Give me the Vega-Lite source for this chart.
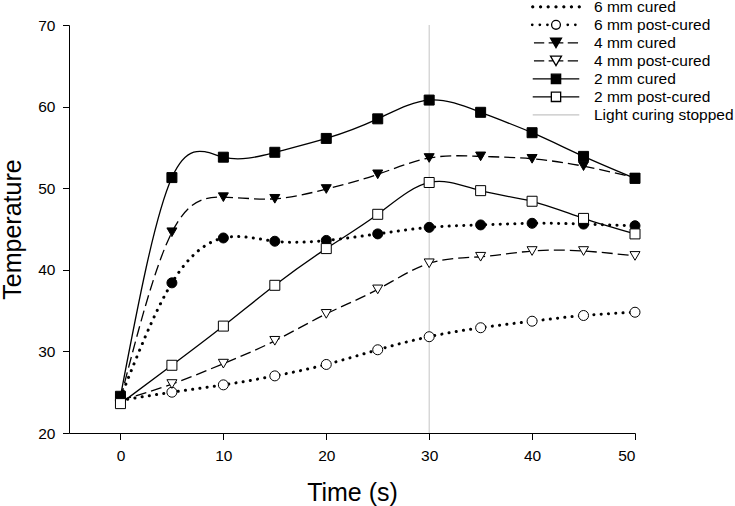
{
  "$schema": "https://vega.github.io/schema/vega-lite/v6.json",
  "width": 566,
  "height": 408,
  "autosize": {"type": "none"},
  "padding": {"left": 69, "top": 25, "right": 100, "bottom": 73},
  "background": "white",
  "config": {
    "view": {"stroke": null},
    "font": "Liberation Sans",
    "axis": {
      "grid": false,
      "domainColor": "black",
      "tickColor": "black",
      "labelColor": "black",
      "titleColor": "black",
      "labelFont": "Liberation Sans",
      "titleFont": "Liberation Sans",
      "labelFontSize": 15.5,
      "titleFontSize": 25,
      "titleFontWeight": "normal",
      "tickSize": 6.5,
      "domainWidth": 1,
      "tickWidth": 1
    },
    "legend": {
      "title": null,
      "orient": "none",
      "legendX": 461.5,
      "legendY": -27.1,
      "padding": 0,
      "offset": 0,
      "symbolSize": 2401,
      "symbolStrokeWidth": 1.3,
      "symbolOpacity": 1,
      "clipHeight": 17.9,
      "rowPadding": 0,
      "labelFont": "Liberation Sans",
      "labelFontSize": 15.5,
      "labelColor": "black",
      "labelOffset": 12.5,
      "labelLimit": 300
    }
  },
  "data": {
    "values": [
      {"s": "6 mm cured", "t": 0, "T": 24.3},
      {"s": "6 mm cured", "t": 5, "T": 38.4},
      {"s": "6 mm cured", "t": 10, "T": 43.9},
      {"s": "6 mm cured", "t": 15, "T": 43.5},
      {"s": "6 mm cured", "t": 20, "T": 43.6},
      {"s": "6 mm cured", "t": 25, "T": 44.4},
      {"s": "6 mm cured", "t": 30, "T": 45.2},
      {"s": "6 mm cured", "t": 35, "T": 45.5},
      {"s": "6 mm cured", "t": 40, "T": 45.7},
      {"s": "6 mm cured", "t": 45, "T": 45.6},
      {"s": "6 mm cured", "t": 50, "T": 45.4},
      {"s": "6 mm post-cured", "t": 0, "T": 24.0},
      {"s": "6 mm post-cured", "t": 5, "T": 25.0},
      {"s": "6 mm post-cured", "t": 10, "T": 25.9},
      {"s": "6 mm post-cured", "t": 15, "T": 27.0},
      {"s": "6 mm post-cured", "t": 20, "T": 28.4},
      {"s": "6 mm post-cured", "t": 25, "T": 30.2},
      {"s": "6 mm post-cured", "t": 30, "T": 31.8},
      {"s": "6 mm post-cured", "t": 35, "T": 32.9},
      {"s": "6 mm post-cured", "t": 40, "T": 33.7},
      {"s": "6 mm post-cured", "t": 45, "T": 34.4},
      {"s": "6 mm post-cured", "t": 50, "T": 34.8},
      {"s": "4 mm cured", "t": 0, "T": 24.2},
      {"s": "4 mm cured", "t": 5, "T": 44.6},
      {"s": "4 mm cured", "t": 10, "T": 48.9},
      {"s": "4 mm cured", "t": 15, "T": 48.7},
      {"s": "4 mm cured", "t": 20, "T": 49.9},
      {"s": "4 mm cured", "t": 25, "T": 51.7},
      {"s": "4 mm cured", "t": 30, "T": 53.7},
      {"s": "4 mm cured", "t": 35, "T": 53.9},
      {"s": "4 mm cured", "t": 40, "T": 53.6},
      {"s": "4 mm cured", "t": 45, "T": 52.7},
      {"s": "4 mm cured", "t": 50, "T": 51.3},
      {"s": "4 mm post-cured", "t": 0, "T": 24.0},
      {"s": "4 mm post-cured", "t": 5, "T": 26.0},
      {"s": "4 mm post-cured", "t": 10, "T": 28.5},
      {"s": "4 mm post-cured", "t": 15, "T": 31.3},
      {"s": "4 mm post-cured", "t": 20, "T": 34.6},
      {"s": "4 mm post-cured", "t": 25, "T": 37.6},
      {"s": "4 mm post-cured", "t": 30, "T": 40.8},
      {"s": "4 mm post-cured", "t": 35, "T": 41.6},
      {"s": "4 mm post-cured", "t": 40, "T": 42.3},
      {"s": "4 mm post-cured", "t": 45, "T": 42.3},
      {"s": "4 mm post-cured", "t": 50, "T": 41.7},
      {"s": "2 mm cured", "t": 0, "T": 24.5},
      {"s": "2 mm cured", "t": 5, "T": 51.3},
      {"s": "2 mm cured", "t": 10, "T": 53.8},
      {"s": "2 mm cured", "t": 15, "T": 54.4},
      {"s": "2 mm cured", "t": 20, "T": 56.1},
      {"s": "2 mm cured", "t": 25, "T": 58.5},
      {"s": "2 mm cured", "t": 30, "T": 60.8},
      {"s": "2 mm cured", "t": 35, "T": 59.3},
      {"s": "2 mm cured", "t": 40, "T": 56.8},
      {"s": "2 mm cured", "t": 45, "T": 53.9},
      {"s": "2 mm cured", "t": 50, "T": 51.2},
      {"s": "2 mm post-cured", "t": 0, "T": 23.6},
      {"s": "2 mm post-cured", "t": 5, "T": 28.3},
      {"s": "2 mm post-cured", "t": 10, "T": 33.1},
      {"s": "2 mm post-cured", "t": 15, "T": 38.1},
      {"s": "2 mm post-cured", "t": 20, "T": 42.6},
      {"s": "2 mm post-cured", "t": 25, "T": 46.8},
      {"s": "2 mm post-cured", "t": 30, "T": 50.7},
      {"s": "2 mm post-cured", "t": 35, "T": 49.7},
      {"s": "2 mm post-cured", "t": 40, "T": 48.4},
      {"s": "2 mm post-cured", "t": 45, "T": 46.3},
      {"s": "2 mm post-cured", "t": 50, "T": 44.4}
    ]
  },
  "encoding": {
    "x": {
      "field": "t",
      "type": "quantitative",
      "scale": {"domain": [-5, 50], "nice": false, "zero": false},
      "axis": {"title": "Time (s)", "values": [0, 10, 20, 30, 40, 50], "labelPadding": 9, "titlePadding": 16}
    },
    "y": {
      "field": "T",
      "type": "quantitative",
      "scale": {"domain": [20, 70], "nice": false, "zero": false},
      "axis": {"title": "Temperature", "values": [20, 30, 40, 50, 60, 70], "labelPadding": 7.5, "titlePadding": 12}
    }
  },
  "resolve": {"scale": {"shape": "independent", "fill": "independent", "stroke": "independent"}},
  "layer": [
    {
      "data": {"values": [{"t": 30}]},
      "mark": {"type": "rule", "color": "#c4c4c4", "strokeWidth": 1},
      "encoding": {"x": {"field": "t", "type": "quantitative"}, "y": null}
    },
    {
      "transform": [{"filter": {"field": "s", "oneOf": ["6 mm cured", "6 mm post-cured"]}}],
      "mark": {"type": "line", "interpolate": "natural", "color": "black", "strokeWidth": 3, "strokeCap": "round", "strokeDash": [0.1, 7.2]},
      "encoding": {"detail": {"field": "s"}}
    },
    {
      "transform": [{"filter": {"field": "s", "oneOf": ["4 mm cured", "4 mm post-cured"]}}],
      "mark": {"type": "line", "interpolate": "natural", "color": "black", "strokeWidth": 1.3, "strokeDash": [11, 5]},
      "encoding": {"detail": {"field": "s"}}
    },
    {
      "transform": [{"filter": {"field": "s", "oneOf": ["2 mm cured", "2 mm post-cured"]}}],
      "mark": {"type": "line", "interpolate": "natural", "color": "black", "strokeWidth": 1.3},
      "encoding": {"detail": {"field": "s"}}
    },
    {
      "mark": {"type": "point", "filled": true, "stroke": "black", "strokeWidth": 1, "opacity": 1, "size": 100},
      "encoding": {
        "fill": {
          "field": "s",
          "type": "nominal",
          "scale": {
            "domain": ["6 mm cured", "6 mm post-cured", "4 mm cured", "4 mm post-cured", "2 mm cured", "2 mm post-cured"],
            "range": ["black", "white", "black", "white", "black", "white"]
          },
          "legend": null
        },
        "shape": {
          "field": "s",
          "type": "nominal",
          "scale": {
            "domain": ["6 mm cured", "6 mm post-cured", "4 mm cured", "4 mm post-cured", "2 mm cured", "2 mm post-cured"],
            "range": ["circle", "circle", "triangle-down", "triangle-down", "square", "square"]
          },
          "legend": null
        }
      }
    },
    {
      "transform": [{"filter": {"field": "s", "equal": "none"}}],
      "mark": {"type": "point", "filled": true, "strokeWidth": 1.3},
      "encoding": {
        "shape": {
          "field": "s",
          "type": "nominal",
          "scale": {
            "domain": ["6 mm cured", "6 mm post-cured", "4 mm cured", "4 mm post-cured", "2 mm cured", "2 mm post-cured", "Light curing stopped"],
            "range": [
              "M-0.91,0A0.04,0.04 0 1,1 -0.99,0A0.04,0.04 0 1,1 -0.91,0ZM-0.59,0A0.04,0.04 0 1,1 -0.67,0A0.04,0.04 0 1,1 -0.59,0ZM-0.28,0A0.04,0.04 0 1,1 -0.36,0A0.04,0.04 0 1,1 -0.28,0ZM0.04,0A0.04,0.04 0 1,1 -0.04,0A0.04,0.04 0 1,1 0.04,0ZM0.36,0A0.04,0.04 0 1,1 0.28,0A0.04,0.04 0 1,1 0.36,0ZM0.67,0A0.04,0.04 0 1,1 0.59,0A0.04,0.04 0 1,1 0.67,0ZM0.99,0A0.04,0.04 0 1,1 0.91,0A0.04,0.04 0 1,1 0.99,0Z",
              "M-0.94,0A0.03,0.03 0 1,1 -1,0A0.03,0.03 0 1,1 -0.94,0ZM-0.63,0A0.03,0.03 0 1,1 -0.69,0A0.03,0.03 0 1,1 -0.63,0ZM-0.32,0A0.03,0.03 0 1,1 -0.38,0A0.03,0.03 0 1,1 -0.32,0ZM0.51,0A0.03,0.03 0 1,1 0.45,0A0.03,0.03 0 1,1 0.51,0ZM0.82,0A0.03,0.03 0 1,1 0.76,0A0.03,0.03 0 1,1 0.82,0ZM0.18,0A0.18,0.18 0 1,1 -0.18,0A0.18,0.18 0 1,1 0.18,0Z",
              "M-0.9,0H-0.48M-0.3,0H0.3M0.48,0H0.9M0,0.194L-0.224,-0.194L0.224,-0.194Z",
              "M-0.9,0H-0.48M-0.3,0H-0.112M0.112,0H0.3M0.48,0H0.9M0,0.194L-0.224,-0.194L0.224,-0.194Z",
              "M-0.95,0H0.95M-0.19,-0.19H0.19V0.19H-0.19Z",
              "M-0.95,0H-0.19M0.19,0H0.95M-0.19,-0.19H0.19V0.19H-0.19Z",
              "M-0.95,0H0.95"
            ]
          },
          "legend": {"title": null}
        },
        "fill": {
          "field": "s",
          "type": "nominal",
          "scale": {
            "domain": ["6 mm cured", "6 mm post-cured", "4 mm cured", "4 mm post-cured", "2 mm cured", "2 mm post-cured", "Light curing stopped"],
            "range": ["black", "white", "black", "white", "black", "white", "transparent"]
          },
          "legend": {"title": null}
        },
        "stroke": {
          "field": "s",
          "type": "nominal",
          "scale": {
            "domain": ["6 mm cured", "6 mm post-cured", "4 mm cured", "4 mm post-cured", "2 mm cured", "2 mm post-cured", "Light curing stopped"],
            "range": ["black", "black", "black", "black", "black", "black", "#c4c4c4"]
          },
          "legend": {"title": null}
        }
      }
    }
  ]
}
